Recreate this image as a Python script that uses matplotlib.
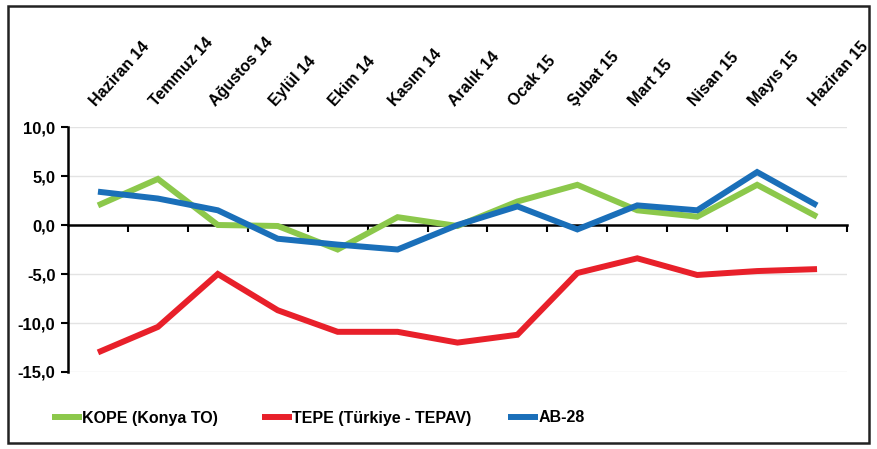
import matplotlib
matplotlib.use("Agg")
import matplotlib.pyplot as plt
from matplotlib.patches import Rectangle

categories = ["Haziran 14", "Temmuz 14", "Ağustos 14", "Eylül 14", "Ekim 14", "Kasım 14",
              "Aralık 14", "Ocak 15", "Şubat 15", "Mart 15", "Nisan 15", "Mayıs 15", "Haziran 15"]
kope = [2.0, 4.7, 0.0, -0.1, -2.5, 0.8, -0.1, 2.4, 4.1, 1.5, 0.85, 4.1, 0.85]
tepe = [-13.0, -10.4, -5.0, -8.7, -10.9, -10.9, -12.0, -11.2, -4.9, -3.4, -5.1, -4.7, -4.5]
ab28 = [3.4, 2.7, 1.5, -1.4, -2.0, -2.5, 0.0, 1.9, -0.45, 2.0, 1.5, 5.4, 2.0]
yticks = [10, 5, 0, -5, -10, -15]
ytick_labels = ["10,0", "5,0", "0,0", "-5,0", "-10,0", "-15,0"]
series_names = ["KOPE (Konya TO)", "TEPE (Türkiye - TEPAV)", "AB-28"]

plt.rcParams['font.family'] = ["Liberation Sans", "DejaVu Sans"]
plt.rcParams['font.weight'] = 'bold'

fig = plt.figure(figsize=(8.77, 4.49), dpi=100)
ax = fig.add_axes([68/877, 1-372/449, (847-68)/877, (372-127)/449])

x = list(range(len(categories)))
cols = ['#8cc84b', '#e8202a', '#1a6fb9']
handles = []
for vals, c, n in zip([kope, tepe, ab28], cols, series_names):
    h, = ax.plot(x, vals, color=c, lw=4.3, label=n, solid_capstyle='butt', solid_joinstyle='miter', zorder=3)
    handles.append(h)

ax.set_xlim(-0.5, len(categories) - 0.5)
ax.set_ylim(-15, 10)
ax.set_yticks(yticks)
ax.set_yticklabels(ytick_labels, fontsize=12, fontweight='bold')
for v in yticks:
    if v != 0:
        ax.axhline(v, color='#e3e3e3', lw=1, zorder=1)

for s in ['top', 'right']:
    ax.spines[s].set_visible(False)
ax.spines['bottom'].set_position(('data', 0))
ax.spines['bottom'].set_linewidth(1.8)
ax.spines['left'].set_linewidth(1.8)
ax.spines['bottom'].set_zorder(2)
ax.tick_params(axis='y', direction='out', length=5, width=1.5, pad=4)
ax.set_xticks([i + 0.5 for i in x])
ax.tick_params(axis='x', direction='out', length=5, width=1.5, labelbottom=False)

sec = ax.secondary_xaxis('top')
sec.set_xticks(x)
sec.set_xticklabels(categories, rotation=48, ha='left', va='bottom', rotation_mode='anchor',
                    fontsize=11.5, fontweight='bold')
sec.tick_params(length=0, pad=13)
sec.spines['top'].set_visible(False)

legend_x = [52, 262, 508]
for h, lx in zip(handles, legend_x):
    fig.legend(handles=[h], loc='center left', bbox_to_anchor=(lx/877, 1 - 418/449), frameon=False,
               handlelength=1.9, handletextpad=0.0, borderaxespad=0, borderpad=0,
               prop={'size': 11.5, 'weight': 'bold'})

fig.patches.append(Rectangle((8/877, 6/449), 1 - 16/877, 1 - 12/449, transform=fig.transFigure,
                             fill=False, edgecolor='#222222', lw=1.8))
fig.savefig("out.png", dpi=100)
